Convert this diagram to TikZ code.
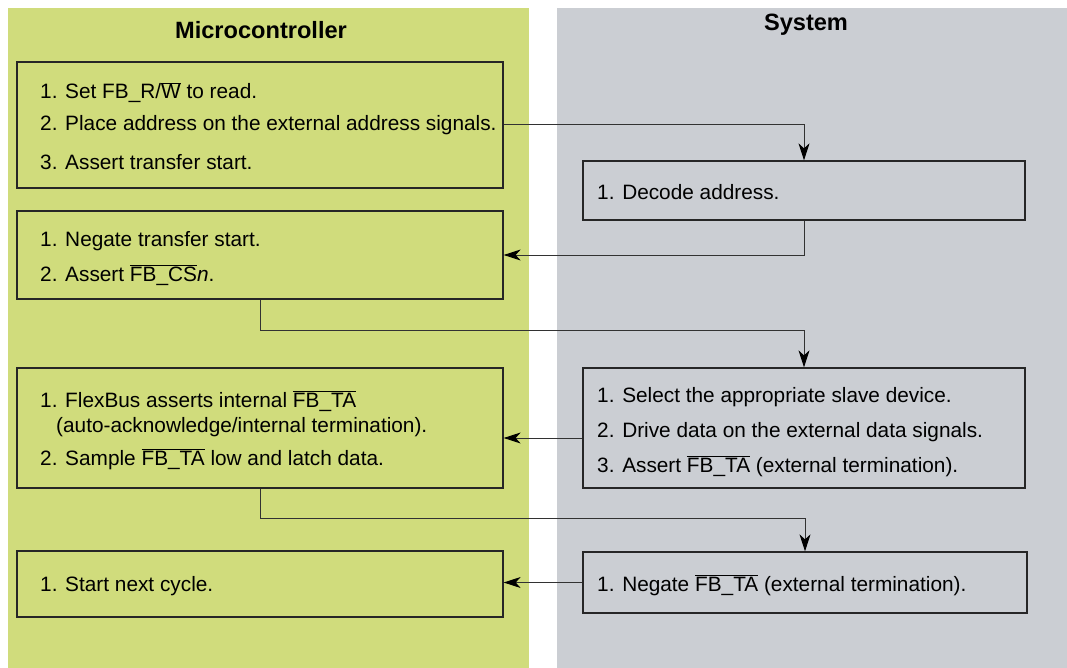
\documentclass[tikz,border=0pt]{standalone}
\usepackage{fontspec}
\setmainfont{Liberation Sans}
\usetikzlibrary{arrows.meta}
\definecolor{mcgreen}{RGB}{208,220,124}
\definecolor{sysgray}{RGB}{203,206,211}
\definecolor{linegray}{RGB}{50,50,50}
\tikzset{
  box/.style={draw=black!85, line width=1.3pt, inner sep=0pt},
  txt/.style={anchor=base west, inner sep=0pt, font=\fontsize{20.8}{24}\selectfont, text=black},
  ttl/.style={inner sep=0pt, font=\fontsize{23.6}{27}\selectfont\bfseries},
  conn/.style={draw=linegray, line width=1pt},
  arr/.style={conn, -{Stealth[length=17pt, width=11pt, inset=5pt, color=black]}},
}
\newcommand{\ovl}[1]{$\overline{\mbox{#1}}$}
\begin{document}
\begin{tikzpicture}[x=1pt, y=-1pt]
\useasboundingbox (0,0) rectangle (1067,668);
% panels
\fill[mcgreen] (8,8) rectangle (529,668);
\fill[sysgray] (557,8) rectangle (1067,668);
\node[ttl] (tmc) at (261,30) {Microcontroller};
\node[ttl] (tsys) at (806,25) {System};
% boxes
\node[box, minimum width=486pt, minimum height=126pt] (A) at (260,125) {};
\node[box, minimum width=486pt, minimum height=88pt] (B) at (260,255) {};
\node[box, minimum width=486pt, minimum height=120pt] (C) at (260,428) {};
\node[box, minimum width=486pt, minimum height=66pt] (D) at (260,584) {};
\node[box, minimum width=442pt, minimum height=59pt] (E) at (804,190.5) {};
\node[box, minimum width=442pt, minimum height=120pt] (F) at (804,428) {};
\node[box, minimum width=444pt, minimum height=61pt] (G) at (805,582.5) {};
% texts
\node[txt] (a1) at (40,99) {1. Set FB\_R/\ovl{W} to read.};
\node[txt] (a2) at (40,131) {2. Place address on the external address signals.};
\node[txt] (a3) at (40,170) {3. Assert transfer start.};
\node[txt] (b1) at (40,247) {1. Negate transfer start.};
\node[txt] (b2) at (40,281) {2. Assert \ovl{FB\_CS}\textit{n}.};
\node[txt] (c1) at (40,407) {1. FlexBus asserts internal \ovl{FB\_TA}};
\node[txt] (c2) at (56,432) {(auto-acknowledge/internal termination).};
\node[txt] (c3) at (40,465) {2. Sample \ovl{FB\_TA} low and latch data.};
\node[txt] (d1) at (40,591) {1. Start next cycle.};
\node[txt] (e1) at (597,200) {1. Decode address.};
\node[txt] (f1) at (597,402) {1. Select the appropriate slave device.};
\node[txt] (f2) at (597,437) {2. Drive data on the external data signals.};
\node[txt] (f3) at (597,472) {3. Assert \ovl{FB\_TA} (external termination).};
\node[txt] (g1) at (597,591) {1. Negate \ovl{FB\_TA} (external termination).};
% connector levels
\coordinate (k0) at (0,125);
\coordinate (k1) at (0,330);
\coordinate (k2) at (0,438);
\coordinate (k3) at (0,518);
% connectors
\draw[arr] (A.east |- k0) -| (E.north);
\draw[arr] (E.south) |- (B.east);
\draw[arr] (B.south) -- (B.south |- k1) -| (F.north);
\draw[arr] (F.west |- k2) -- (C.east |- k2);
\draw[arr] (C.south) -- (C.south |- k3) -| (G.north);
\draw[arr] (G.west) -- (G.west -| D.east);
\end{tikzpicture}
\end{document}
